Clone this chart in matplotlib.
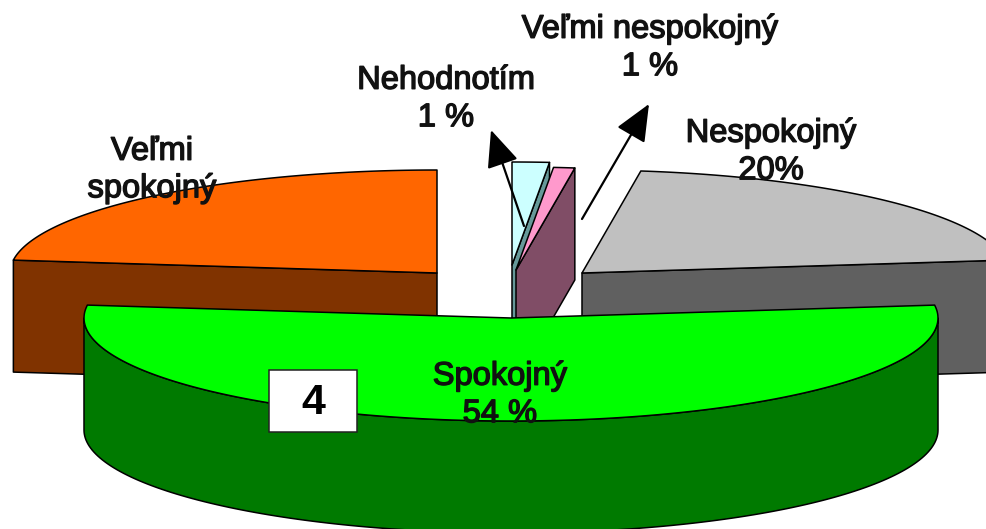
import numpy as np
import matplotlib
matplotlib.use("Agg")
import matplotlib.pyplot as plt
import matplotlib.patheffects as pe
from matplotlib.patches import Polygon, Rectangle, FancyArrowPatch

# Data, clockwise from the top of the pie (shares)
categories = ["Nehodnotím", "Veľmi nespokojný", "Nespokojný", "Spokojný", "Veľmi spokojný"]
values = [1.4, 0.8, 20.8, 54.0, 23.0]
label_texts = ["Nehodnotím\n1 %", "Veľmi nespokojný\n1 %", "Nespokojný\n20%", "Spokojný\n54 %", "Veľmi\nspokojný"]

# Styling and layout (pixel space)
top_colors = ["#CCFFFF", "#FF99CC", "#C0C0C0", "#00FF00", "#FF6600"]
side_colors = ["#669999", "#804D66", "#606060", "#007A00", "#803300"]
apex_x = [512, 516, 582, 511, 437]
apex_y = [265, 270, 273, 318, 273]
label_x = [446, 650, 771, 500, 152]
label_y = [99, 48, 152, 395, 170]
draw_order = [4, 2, 0, 1, 3]
RX, RY, DEPTH = 427, 103, 112
FONT = "Liberation Sans"

fig = plt.figure(figsize=(9.87, 5.29), dpi=100)
ax = fig.add_axes([0, 0, 1, 1])
ax.set_xlim(0, 987)
ax.set_ylim(529, 0)
ax.axis("off")

ends = np.cumsum(values) / np.sum(values) * 360
starts = np.concatenate([[0], ends[:-1]])


def rim(cx, cy, a0, a1, n=160):
    t = np.radians(np.linspace(a0, a1, n))
    return np.column_stack([cx + RX * np.sin(t), cy - RY * np.cos(t)])


def poly(points, color, z):
    ax.add_patch(Polygon(points, closed=True, facecolor=color, edgecolor="black",
                         linewidth=1.1, joinstyle="round", zorder=z))


for z, i in enumerate(draw_order):
    cx, cy, a0, a1 = apex_x[i], apex_y[i], starts[i], ends[i]
    base = 2 * z + 1
    drop = np.array([0, DEPTH])
    apex = np.array([[cx, cy]])
    # radial wall that faces the viewer
    if np.sin(np.radians(a0)) < -1e-6:
        edge = np.vstack([apex, rim(cx, cy, a0, a0, 1)])
        poly(np.vstack([edge, edge[::-1] + drop]), side_colors[i], base)
    if np.sin(np.radians(a1)) > 1e-6:
        edge = np.vstack([apex, rim(cx, cy, a1, a1, 1)])
        poly(np.vstack([edge, edge[::-1] + drop]), side_colors[i], base)
    # front rim wall
    f0, f1 = max(a0, 90), min(a1, 270)
    if f1 > f0:
        arc = rim(cx, cy, f0, f1)
        poly(np.vstack([arc, arc[::-1] + drop]), side_colors[i], base)
    # top face
    poly(np.vstack([apex, rim(cx, cy, a0, a1)]), top_colors[i], base + 1)

TOP = 40
for lx, ly, txt in zip(label_x, label_y, label_texts):
    ax.text(lx, ly, txt, ha="center", va="center", family=FONT, fontweight="normal",
            fontsize=23.5, color="#111111", linespacing=1.27, zorder=TOP,
            path_effects=[pe.withStroke(linewidth=1.0, foreground="#111111")])

# Leader arrows
arrow_tails = [(524, 226), (582, 219)]
arrow_tips = [(491, 130), (649, 104)]
for tail, tip in zip(arrow_tails, arrow_tips):
    ax.add_patch(FancyArrowPatch(tail, tip, arrowstyle="-|>,head_length=23,head_width=10",
                                 mutation_scale=1, linewidth=1.6, color="black",
                                 shrinkA=0, shrinkB=0, zorder=TOP))

# Numbered box
ax.add_patch(Rectangle((269, 370), 88, 62, facecolor="white", edgecolor="#222222",
                       linewidth=1.1, zorder=TOP))
ax.text(313, 403, "4", ha="center", va="center", family="Liberation Sans", fontweight="bold",
        fontsize=31, color="black", zorder=TOP + 1)

fig.savefig("out.png", dpi=100)
